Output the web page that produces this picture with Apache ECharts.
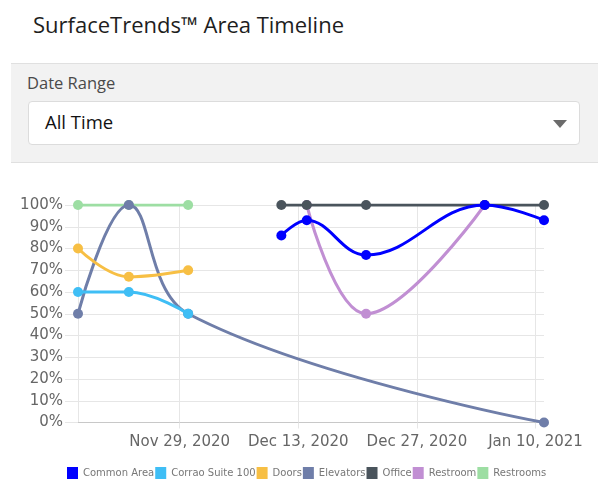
<!DOCTYPE html>
<html>
<head>
<meta charset="utf-8">
<script src="https://cdn.jsdelivr.net/npm/echarts@6/dist/echarts.min.js"></script>
<style>
    html, body { margin: 0; padding: 0; width: 600px; height: 479px; background: #fff; overflow: hidden; }
    body { position: relative; font-family: "Open Sans", "Noto Sans", sans-serif; }
    #title { position: absolute; left: 33px; top: 9px; font-size: 22px; color: #1e1e1e; }
    #panel { position: absolute; left: 11px; right: 2px; top: 63px; height: 98px; background: #f2f2f2;
             border-top: 1px solid #e0e0e0; border-bottom: 1px solid #e0e0e0; }
    #lbl { position: absolute; left: 16px; top: 7px; font-size: 16.5px; color: #4a4a4a; }
    #sel { position: absolute; left: 17px; top: 37px; width: 552px; height: 44px; background: #fff;
           border: 1px solid #dcdcdc; border-radius: 4px; box-sizing: border-box; }
    #selText { position: absolute; left: 16px; top: 7px; font-size: 18.5px; color: #111; }
    #arrow { position: absolute; left: 524px; top: 18px; width: 0; height: 0;
             border-left: 7px solid transparent; border-right: 7px solid transparent; border-top: 8px solid #6b6b6b; }
    #chart { position: absolute; left: 0; top: 0; width: 600px; height: 479px; }
</style>
</head>
<body>
<div id="title">SurfaceTrends™ Area Timeline</div>
<div id="panel">
    <div id="lbl">Date Range</div>
    <div id="sel"><div id="selText">All Time</div><div id="arrow"></div></div>
</div>
<div id="chart"></div>
<script>
// 数据
var seriesNames = ['Common Area', 'Corrao Suite 100', 'Doors', 'Elevators', 'Office', 'Restroom', 'Restrooms'];
var seriesColors = ['#0000ff', '#3fbef5', '#f7bf44', '#6f7ea9', '#4a545c', '#c18fd3', '#9ddea3'];

var commonAreaDates = ['2020-12-11', '2020-12-14', '2020-12-21', '2021-01-04', '2021-01-11'];
var commonAreaValues = [86, 93, 77, 100, 93];
var corraoDates = ['2020-11-17', '2020-11-23', '2020-11-30'];
var corraoValues = [60, 60, 50];
var doorsDates = ['2020-11-17', '2020-11-23', '2020-11-30'];
var doorsValues = [80, 67, 70];
var elevatorsDates = ['2020-11-17', '2020-11-23', '2020-11-30', '2021-01-11'];
var elevatorsValues = [50, 100, 50, 0];
var officeDates = ['2020-12-11', '2020-12-14', '2020-12-21', '2021-01-04', '2021-01-11'];
var officeValues = [100, 100, 100, 100, 100];
var restroomDates = ['2020-12-14', '2020-12-21', '2021-01-04'];
var restroomValues = [100, 50, 100];
var restroomsDates = ['2020-11-17', '2020-11-23', '2020-11-30'];
var restroomsValues = [100, 100, 100];

var tickDates = ['2020-11-29', '2020-12-13', '2020-12-27', '2021-01-10'];
var axisMinDate = '2020-11-17';
var axisMaxDate = '2021-01-11';

var monthNames = ['Jan', 'Feb', 'Mar', 'Apr', 'May', 'Jun', 'Jul', 'Aug', 'Sep', 'Oct', 'Nov', 'Dec'];

function parseDay(s) {
    var p = s.split('-');
    return new Date(+p[0], +p[1] - 1, +p[2]).getTime();
}
function pairs(dates, values) {
    return dates.map(function (d, i) { return [parseDay(d), values[i]]; });
}

var allData = [
    pairs(commonAreaDates, commonAreaValues),
    pairs(corraoDates, corraoValues),
    pairs(doorsDates, doorsValues),
    pairs(elevatorsDates, elevatorsValues),
    pairs(officeDates, officeValues),
    pairs(restroomDates, restroomValues),
    pairs(restroomsDates, restroomsValues)
];

var myChart = echarts.init(document.getElementById('chart'));

option = {
    animation: false,
    color: seriesColors,
    legend: {
        left: 62,
        top: 462,
        itemWidth: 11,
        itemHeight: 12,
        itemGap: 1,
        icon: 'rect',
        textStyle: {
            fontFamily: 'DejaVu Sans',
            fontSize: 10,
            color: '#777'
        },
        data: seriesNames
    },
    grid: {
        left: 78,
        right: 56,
        top: 205,
        bottom: 56.5
    },
    xAxis: {
        type: 'value',
        min: parseDay(axisMinDate),
        max: parseDay(axisMaxDate),
        axisLine: { show: true, lineStyle: { color: '#c8c8c8' } },
        axisTick: {
            show: true,
            length: 6,
            lineStyle: { color: '#e6e6e6' },
            customValues: tickDates.map(parseDay)
        },
        axisLabel: {
            customValues: tickDates.map(parseDay),
            fontFamily: 'DejaVu Sans',
            fontSize: 15,
            color: '#666',
            margin: 12,
            formatter: function (v) {
                var d = new Date(v);
                return monthNames[d.getMonth()] + ' ' + d.getDate() + ', ' + d.getFullYear();
            }
        },
        splitLine: { show: true, lineStyle: { color: '#e6e6e6' } }
    },
    yAxis: {
        type: 'value',
        min: 0,
        max: 100,
        interval: 10,
        axisLine: { show: true, lineStyle: { color: '#e6e6e6' } },
        axisTick: { show: true, length: 13, lineStyle: { color: '#e6e6e6' } },
        axisLabel: {
            fontFamily: 'DejaVu Sans',
            fontSize: 15,
            color: '#666',
            margin: 15,
            formatter: '{value}%'
        },
        splitLine: { show: true, lineStyle: { color: '#e6e6e6' } }
    },
    series: seriesNames.map(function (name, i) {
        return {
            name: name,
            type: 'line',
            z: 10 - i,
            smooth: 0.4,
            symbol: 'circle',
            symbolSize: 10,
            lineStyle: { width: 3 },
            data: allData[i]
        };
    })
};

myChart.setOption(option);
</script>
</body>
</html>
